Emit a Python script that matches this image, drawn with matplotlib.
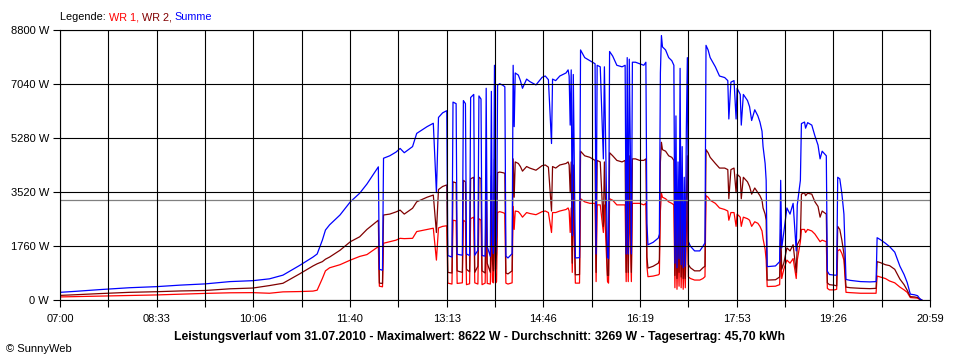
import numpy as np
import matplotlib
matplotlib.use('Agg')
import matplotlib.pyplot as plt
from matplotlib.ticker import FixedLocator, FixedFormatter

plt.rcParams['font.family'] = ['Liberation Sans', 'DejaVu Sans']
plt.rcParams['font.size'] = 8

# Leistungsverlauf 31.07.2010, Werte in W
zeit = ['07:00', '07:14', '07:39', '08:07', '08:33', '08:56', '09:20', '09:44',
        '10:06', '10:22', '10:35', '10:51', '11:04', '11:08', '11:13', '11:16',
        '11:20', '11:30', '11:40', '11:49', '11:56', '12:07', '12:08', '12:11',
        '12:12', '12:18', '12:24', '12:28', '12:32', '12:40', '12:44', '12:54',
        '13:00', '13:03', '13:05', '13:09', '13:13', '13:14', '13:18', '13:19',
        '13:22', '13:23', '13:28', '13:29', '13:31', '13:32', '13:35', '13:36',
        '13:39', '13:40', '13:43', '13:44', '13:46', '13:47', '13:50', '13:51',
        '13:52', '13:55', '13:56', '13:57', '13:58', '13:59', '14:00', '14:01',
        '14:02', '14:04', '14:07', '14:09', '14:10', '14:12', '14:14', '14:16',
        '14:17', '14:18', '14:19', '14:22', '14:24', '14:26', '14:30', '14:33',
        '14:39', '14:45', '14:48', '14:51', '14:54', '14:55', '14:58', '15:02',
        '15:08', '15:10', '15:11', '15:12', '15:13', '15:14', '15:15', '15:16',
        '15:17', '15:21', '15:22', '15:26', '15:31', '15:36', '15:37', '15:38',
        '15:41', '15:44', '15:45', '15:48', '15:49', '15:50', '15:53', '15:57',
        '16:02', '16:05', '16:06', '16:07', '16:08', '16:09', '16:10', '16:11',
        '16:12', '16:15', '16:19', '16:23', '16:25', '16:26', '16:27', '16:32',
        '16:37', '16:38', '16:39', '16:40', '16:41', '16:44', '16:47', '16:50',
        '16:52', '16:53', '16:54', '16:55', '16:56', '16:57', '16:58', '16:59',
        '17:00', '17:01', '17:02', '17:03', '17:04', '17:05', '17:06', '17:08',
        '17:12', '17:17', '17:20', '17:22', '17:23', '17:25', '17:27', '17:32',
        '17:36', '17:41', '17:44', '17:45', '17:47', '17:50', '17:52', '17:53',
        '17:56', '17:57', '17:59', '18:03', '18:05', '18:07', '18:10', '18:13',
        '18:15', '18:17', '18:18', '18:20', '18:21', '18:22', '18:23', '18:30',
        '18:34', '18:35', '18:36', '18:38', '18:41', '18:44', '18:47', '18:50',
        '18:51', '18:54', '18:55', '18:58', '18:59', '19:01', '19:05', '19:08',
        '19:11', '19:13', '19:15', '19:19', '19:20', '19:22', '19:27', '19:29',
        '19:30', '19:32', '19:34', '19:36', '19:38', '19:42', '19:52', '20:01',
        '20:07', '20:08', '20:11', '20:16', '20:20', '20:25', '20:30', '20:34',
        '20:37', '20:40', '20:44', '20:47', '20:49', '20:51']

wr1 = [100, 110, 130, 150, 165, 190, 215, 235,
       240, 220, 265, 275, 290, 320, 700, 950,
       1050, 1150, 1300, 1420, 1480, 1740, 450, 430,
       1850, 1900, 1950, 2010, 2000, 2010, 2230, 2300,
       2340, 1300, 2350, 2400, 2420, 550, 520, 2600,
       2580, 540, 560, 2600, 2550, 500, 530, 2650,
       2700, 560, 520, 2650, 2600, 500, 550, 2800,
       540, 520, 2750, 600, 560, 3050, 550, 600,
       2850, 2880, 2850, 2820, 550, 520, 540, 560,
       3050, 2300, 2900, 2880, 2800, 2700, 2850, 2820,
       2780, 2880, 2900, 2850, 2200, 2850, 2850, 2900,
       2950, 3000, 2900, 2200, 3000, 900, 2950, 2000,
       550, 550, 3300, 3200, 3150, 3150, 600, 3100,
       3100, 2200, 3100, 600, 550, 3300, 3250, 3100,
       3100, 3100, 600, 3200, 600, 3150, 2000, 600,
       3150, 3150, 3150, 3100, 3150, 1100, 760, 780,
       820, 850, 2900, 3480, 3350, 3300, 3200, 3150,
       3100, 400, 2500, 350, 1800, 450, 3050, 400,
       2000, 350, 1500, 400, 2200, 3200, 750, 700,
       650, 650, 700, 760, 3400, 3350, 3250, 3150,
       3000, 2950, 2900, 2600, 2850, 2850, 2400, 2800,
       2700, 2400, 2700, 2650, 2600, 2400, 2550, 2500,
       2400, 2250, 2000, 1650, 1300, 440, 440, 450,
       500, 1600, 700, 1000, 1300, 1200, 1350, 700,
       1300, 1900, 2300, 2300, 2200, 2300, 2250, 2150,
       2000, 1900, 1950, 1900, 380, 330, 330, 350,
       1600, 1650, 1520, 1300, 250, 240, 220, 220,
       220, 780, 750, 700, 620, 560, 420, 330,
       250, 80, 70, 60, 20, 0]

wr2 = [150, 170, 210, 250, 270, 295, 310, 365,
       390, 470, 545, 850, 1110, 1180, 1250, 1330,
       1400, 1620, 1900, 2060, 2300, 2600, 550, 540,
       2770, 2800, 2870, 2930, 2800, 2990, 3200, 3350,
       3420, 2200, 3600, 3700, 3750, 900, 880, 3850,
       3820, 950, 900, 3900, 3850, 1000, 920, 3950,
       4000, 900, 1100, 4000, 3950, 950, 880, 4100,
       1200, 900, 4050, 1300, 950, 4600, 1000, 1500,
       4150, 4170, 4150, 4130, 880, 850, 900, 950,
       4600, 3350, 4500, 4450, 4350, 4200, 4350, 4300,
       4230, 4380, 4400, 4330, 2900, 4350, 4300, 4400,
       4450, 4500, 4400, 3500, 4500, 1200, 4400, 2500,
       820, 830, 4850, 4700, 4650, 4550, 900, 4550,
       4500, 2400, 4500, 800, 800, 4800, 4700, 4550,
       4500, 4550, 900, 4700, 900, 4700, 3000, 900,
       4600, 4600, 4550, 4550, 4600, 1400, 1040, 1100,
       1200, 1300, 4500, 5140, 4900, 4850, 4700, 4650,
       4550, 800, 3500, 700, 2700, 900, 4500, 750,
       3000, 700, 2500, 700, 3300, 4700, 1150, 1050,
       950, 950, 1050, 1100, 4900, 4800, 4650, 4450,
       4300, 4300, 4250, 3300, 4250, 4300, 3500, 4100,
       4000, 3300, 4000, 3850, 3700, 3450, 3650, 3500,
       3400, 3250, 3000, 2800, 2600, 650, 650, 660,
       750, 2300, 1000, 1200, 1700, 1600, 1800, 900,
       1800, 2000, 3450, 3500, 3400, 3480, 3450, 3200,
       3050, 2700, 2900, 2800, 560, 500, 480, 460,
       2400, 2300, 1950, 1500, 420, 400, 380, 370,
       380, 1250, 1220, 1150, 1120, 1000, 680, 500,
       320, 110, 100, 80, 30, 0]

summe = [250, 280, 340, 400, 435, 485, 525, 600,
         630, 690, 810, 1125, 1400, 1500, 1950, 2280,
         2450, 2770, 3200, 3480, 3780, 4340, 1000, 970,
         4620, 4700, 4820, 4940, 4800, 5000, 5430, 5650,
         5760, 3500, 5950, 6100, 6170, 1450, 1400, 6450,
         6400, 1490, 1460, 6500, 6400, 1500, 1450, 6600,
         6700, 1460, 1620, 6650, 6550, 1450, 1430, 6900,
         1740, 1420, 6800, 1900, 1510, 7650, 1550, 2100,
         7000, 7050, 7000, 6950, 1430, 1370, 1440, 1510,
         7650, 5650, 7400, 7330, 7150, 6900, 7200, 7120,
         7010, 7260, 7300, 7180, 5100, 7200, 7150, 7300,
         7400, 7500, 7300, 5700, 7500, 2100, 7350, 4500,
         1370, 1380, 8150, 7900, 7800, 7700, 1500, 7650,
         7600, 4600, 7600, 1400, 1350, 8100, 7950, 7650,
         7600, 7650, 1500, 7900, 1500, 7850, 5000, 1500,
         7750, 7750, 7700, 7650, 7750, 2500, 1800, 1880,
         2020, 2150, 7400, 8620, 8250, 8150, 7900, 7800,
         7650, 1200, 6000, 1050, 4500, 1350, 7550, 1150,
         5000, 1050, 4000, 1100, 5500, 7900, 1900, 1750,
         1600, 1600, 1750, 1860, 8300, 8150, 7900, 7600,
         7300, 7250, 7150, 5900, 7100, 7150, 5900, 6900,
         6700, 5700, 6700, 6500, 6300, 5850, 6200, 6000,
         5800, 5500, 5000, 4450, 3900, 1090, 1090, 1110,
         1250, 3900, 1700, 2200, 3000, 2800, 3150, 1600,
         3100, 3900, 5750, 5800, 5600, 5780, 5700, 5350,
         5050, 4600, 4850, 4700, 940, 830, 810, 810,
         4000, 3950, 3470, 2800, 670, 640, 600, 590,
         600, 2030, 1970, 1850, 1740, 1560, 1100, 830,
         570, 190, 170, 140, 50, 0]

datum = '31.07.2010'
maximalwert = 8622
durchschnitt = 3269
tagesertrag = '45,70'
y_ticks = [0, 1760, 3520, 5280, 7040, 8800]
start, ende = '07:00', '20:59'


def minuten(s):
    h, m = s.split(':')
    return int(h) * 60 + int(m)


t = np.array([minuten(z) for z in zeit])
t0, t1 = minuten(start), minuten(ende)

fig = plt.figure(figsize=(9.6, 3.6), dpi=100)
ax = fig.add_axes([60 / 960, 60 / 360, 870 / 960, 270 / 360])

lw = 0.9
ax.plot(t, wr1, color='#ff0000', lw=lw, zorder=1.0)
ax.plot(t, wr2, color='#800000', lw=lw, zorder=1.1)
ax.plot(t, summe, color='#0000ff', lw=lw, zorder=1.2)
ax.axhline(durchschnitt, color='#808080', lw=0.9, zorder=1.3)

ax.set_xlim(t0, t1)
ax.set_ylim(0, y_ticks[-1])

major = np.linspace(t0, t1, 10)
minor = np.linspace(t0, t1, 19)
labels = ['%02d:%02d' % divmod(int(round(m)), 60) for m in major]
ax.xaxis.set_major_locator(FixedLocator(major))
ax.xaxis.set_major_formatter(FixedFormatter(labels))
ax.xaxis.set_minor_locator(FixedLocator(minor))
ax.set_yticks(y_ticks)
ax.set_yticklabels(['%d W' % v for v in y_ticks])

ax.tick_params(axis='both', which='both', direction='out', length=5,
               width=0.8, color='black', labelsize=8)
ax.tick_params(axis='x', pad=5)
ax.tick_params(axis='y', pad=3)
ax.set_axisbelow(False)
ax.grid(True, which='both', axis='x', color='black', lw=0.8)
ax.grid(True, which='major', axis='y', color='black', lw=0.8)
for sp in ax.spines.values():
    sp.set_linewidth(0.8)
    sp.set_zorder(3)

# Legende oben links, mehrfarbig
renderer = fig.canvas.get_renderer()
x = 60 / 960
for txt, col in [('Legende: ', 'black'), ('WR 1, ', '#ff0000'),
                 ('WR 2, ', '#800000'), ('Summe', '#0000ff')]:
    tt = fig.text(x, 1 - 17 / 360, txt, color=col, ha='left', va='center',
                  fontsize=7.8)
    bb = tt.get_window_extent(renderer)
    x += bb.width / fig.bbox.width

titel = ('Leistungsverlauf vom %s - Maximalwert: %d W - Durchschnitt: %d W'
         ' - Tagesertrag: %s kWh' % (datum, maximalwert, durchschnitt, tagesertrag))
fig.text(480 / 960, 1 - 337 / 360, titel, ha='center', va='center',
         fontsize=8.8, fontweight='bold')
fig.text(6 / 960, 1 - 349 / 360, '© SunnyWeb', ha='left', va='center',
         fontsize=8)

fig.savefig('out.png', dpi=100)
